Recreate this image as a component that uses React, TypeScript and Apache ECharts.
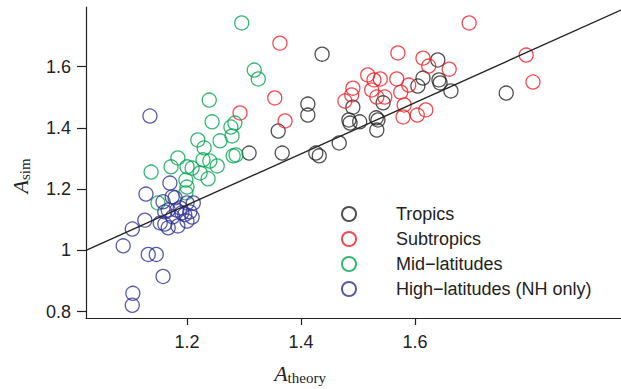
import React, { useEffect, useRef } from "react";
import * as echarts from "echarts";

// Tropics (black)
const tropicsX = [1.437, 1.412, 1.412, 1.360, 1.309, 1.367, 1.426, 1.432, 1.467, 1.484, 1.486, 1.491, 1.503, 1.532, 1.535, 1.533, 1.544, 1.640, 1.614, 1.605, 1.642, 1.644, 1.663, 1.760];
const tropicsY = [1.641, 1.478, 1.442, 1.390, 1.318, 1.318, 1.318, 1.309, 1.351, 1.426, 1.416, 1.468, 1.420, 1.433, 1.426, 1.393, 1.482, 1.622, 1.563, 1.537, 1.557, 1.547, 1.521, 1.514];

// Subtropics (red)
const subX = [1.363, 1.354, 1.372, 1.293, 1.695, 1.570, 1.614, 1.624, 1.660, 1.795, 1.807, 1.517, 1.528, 1.539, 1.568, 1.589, 1.575, 1.524, 1.533, 1.547, 1.491, 1.489, 1.477, 1.581, 1.579, 1.604, 1.619];
const subY = [1.677, 1.498, 1.423, 1.449, 1.743, 1.645, 1.628, 1.602, 1.592, 1.638, 1.550, 1.573, 1.557, 1.560, 1.560, 1.540, 1.517, 1.524, 1.501, 1.501, 1.530, 1.508, 1.488, 1.475, 1.436, 1.442, 1.459];

// Mid-latitudes (green)
const midX = [1.296, 1.318, 1.325, 1.239, 1.244, 1.277, 1.284, 1.279, 1.258, 1.219, 1.230, 1.281, 1.286, 1.184, 1.172, 1.200, 1.209, 1.228, 1.240, 1.253, 1.137, 1.223, 1.237, 1.198, 1.200, 1.198, 1.149];
const midY = [1.743, 1.589, 1.560, 1.491, 1.420, 1.403, 1.416, 1.374, 1.358, 1.361, 1.335, 1.309, 1.312, 1.302, 1.273, 1.273, 1.269, 1.296, 1.292, 1.276, 1.256, 1.253, 1.234, 1.230, 1.207, 1.188, 1.155];

// High-latitudes (blue)
const highX = [1.135, 1.170, 1.128, 1.174, 1.179, 1.158, 1.200, 1.161, 1.182, 1.126, 1.104, 1.153, 1.167, 1.184, 1.200, 1.209, 1.175, 1.191, 1.088, 1.132, 1.146, 1.158, 1.105, 1.104, 1.211, 1.205, 1.196, 1.167, 1.188, 1.161];
const highY = [1.439, 1.220, 1.184, 1.175, 1.172, 1.159, 1.155, 1.126, 1.132, 1.099, 1.070, 1.090, 1.074, 1.080, 1.096, 1.109, 1.110, 1.123, 1.015, 0.987, 0.987, 0.915, 0.860, 0.821, 1.155, 1.126, 1.117, 1.132, 1.139, 1.086];

// Fitted line end points
const fitX = [1.0228, 1.9614];
const fitY = [1.0, 1.785];

const xTicks = [1.2, 1.4, 1.6];
const yTicks = [0.8, 1, 1.2, 1.4, 1.6];

const names = ["Tropics", "Subtropics", "Mid\u2212latitudes", "High\u2212latitudes (NH only)"];
const colors = ["#222222", "#ee1d23", "#00a651", "#2e3192"];

const zip = (xs: number[], ys: number[]) => xs.map((x, i) => [x, ys[i]]);

export default function App() {
  const ref = useRef<HTMLDivElement>(null);
  useEffect(() => {
    document.body.style.margin = "0";
    if (!ref.current) return;
    const chart = echarts.init(ref.current, undefined, { renderer: "svg" });
    const groups = [zip(tropicsX, tropicsY), zip(subX, subY), zip(midX, midY), zip(highX, highY)];
    const sans = "'Liberation Sans', Arial, sans-serif";
    const serif = "'Liberation Serif', 'DejaVu Serif', serif";
    chart.setOption({
      animation: false,
      backgroundColor: "#ffffff",
      grid: { left: 86, top: 7, right: 0, bottom: 71, containLabel: false },
      xAxis: {
        type: "value",
        min: 1.0228,
        max: 1.9614,
        splitLine: { show: false },
        axisLine: { show: true, lineStyle: { color: "#222", width: 1.2 } },
        axisTick: { show: true, length: 7, customValues: xTicks, lineStyle: { color: "#222", width: 1.2 } },
        axisLabel: { customValues: xTicks, fontSize: 18, color: "#222", fontFamily: sans, margin: 15, formatter: (v: number) => String(v) },
      },
      yAxis: {
        type: "value",
        min: 0.7794,
        max: 1.795,
        splitLine: { show: false },
        axisLine: { show: true, lineStyle: { color: "#222", width: 1.2 } },
        axisTick: { show: true, length: 9, customValues: yTicks, lineStyle: { color: "#222", width: 1.2 } },
        axisLabel: { customValues: yTicks, fontSize: 18, color: "#222", fontFamily: sans, margin: 15, formatter: (v: number) => String(v) },
      },
      legend: {
        orient: "vertical",
        left: 336,
        top: 200,
        itemWidth: 14,
        itemHeight: 14,
        itemGap: 7,
        data: names,
        textStyle: { fontSize: 18, color: "#222", fontFamily: sans, padding: [0, 0, 0, 35] },
      },
      graphic: [
        {
          type: "text",
          x: 300,
          y: 373,
          style: {
            text: "{a|A}{s|theory}",
            align: "center",
            verticalAlign: "middle",
            rich: {
              a: { fontSize: 22, fontStyle: "italic", fontFamily: serif, fill: "#222", lineHeight: 24 },
              s: { fontSize: 15, fontFamily: serif, fill: "#222", lineHeight: 15, verticalAlign: "bottom" },
            },
          },
        },
        {
          type: "text",
          x: 20,
          y: 176,
          rotation: Math.PI / 2,
          style: {
            text: "{a|A}{s|sim}",
            align: "center",
            verticalAlign: "middle",
            rich: {
              a: { fontSize: 22, fontStyle: "italic", fontFamily: serif, fill: "#222", lineHeight: 24 },
              s: { fontSize: 15, fontFamily: serif, fill: "#222", lineHeight: 15, verticalAlign: "bottom" },
            },
          },
        },
      ],
      series: [
        ...groups.map((d, i) => ({
          type: "scatter",
          name: names[i],
          data: d,
          symbol: "circle",
          symbolSize: 14,
          itemStyle: { color: "rgba(0,0,0,0)", borderColor: colors[i], borderWidth: 1.3 },
          emphasis: { disabled: true },
        })),
        {
          type: "line",
          name: "fit",
          data: zip(fitX, fitY),
          showSymbol: false,
          symbol: "none",
          lineStyle: { color: "#222", width: 1.3 },
          silent: true,
        },
      ],
    });
    return () => chart.dispose();
  }, []);
  return <div ref={ref} style={{ width: 621, height: 389 }} />;
}
